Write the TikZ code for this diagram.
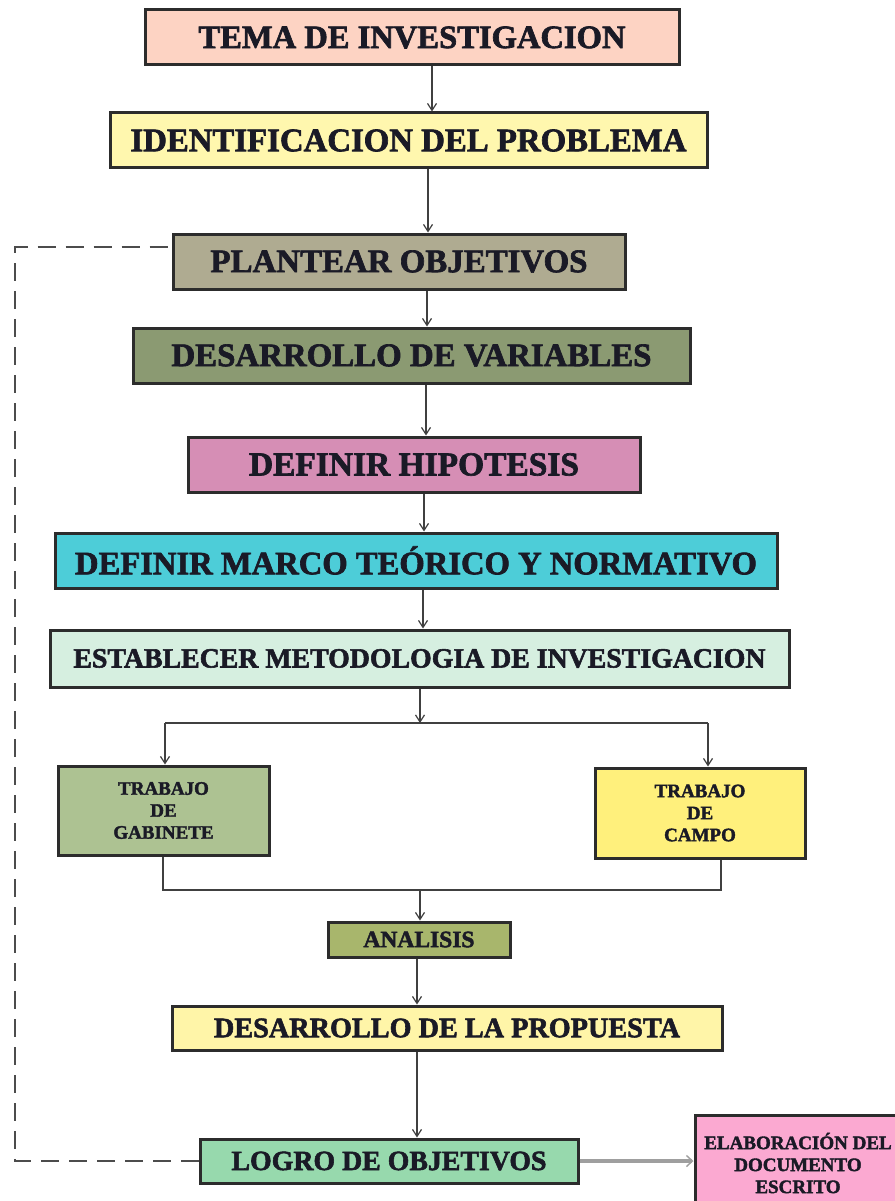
\documentclass[tikz,border=0pt]{standalone}
\usepackage{fontspec}
\setmainfont{Liberation Serif}[BoldFeatures={FakeBold=2}]
\usetikzlibrary{arrows.meta}
\definecolor{boxline}{HTML}{2C2C2C}
\definecolor{txt}{HTML}{1A1A26}
\definecolor{arrc}{HTML}{404040}
\definecolor{cTema}{HTML}{FDD3C3}
\definecolor{cIdent}{HTML}{FFF7AE}
\definecolor{cPlant}{HTML}{AFAB91}
\definecolor{cVar}{HTML}{8B9A72}
\definecolor{cHipo}{HTML}{D68EB5}
\definecolor{cMarco}{HTML}{4DCDD8}
\definecolor{cEstab}{HTML}{D6EFE0}
\definecolor{cGab}{HTML}{ADC292}
\definecolor{cCampo}{HTML}{FFF07C}
\definecolor{cAnal}{HTML}{A8B66C}
\definecolor{cProp}{HTML}{FFF5A8}
\definecolor{cLogro}{HTML}{97D9AD}
\definecolor{cElab}{HTML}{FBA9D1}
\newcommand\fitw[2]{\resizebox{#1pt}{!}{\bfseries #2}}
\begin{document}
\begin{tikzpicture}[x=1pt,y=-1pt,
  box/.style={draw=boxline, line width=3pt, inner sep=0pt, text=txt, font=\bfseries},
  small/.style={align=center, font=\bfseries\fontsize{19}{22}\selectfont},
  arr/.style={draw=arrc, line width=1.3pt, -{Straight Barb[length=7pt,width=9pt,line width=1.2pt]}},
  ln/.style={draw=arrc, line width=1.3pt},
  grayarr/.style={draw=gray!75, line width=4pt, -{Straight Barb[length=6pt,width=11pt,line width=1.4pt]}},
  dashline/.style={draw=black!70, line width=2pt, dash pattern=on 18pt off 10pt}]
\useasboundingbox[fill=white] (0,0) rectangle (894,1201);

\node[box, fill=cTema, minimum width=534pt, minimum height=55pt] (tema) at (412,37.5) {\fitw{427}{TEMA DE INVESTIGACION}};
\node[box, fill=cIdent, minimum width=597pt, minimum height=55pt] (ident) at (408.5,140.5) {\fitw{556}{IDENTIFICACION DEL PROBLEMA}};
\node[box, fill=cPlant, minimum width=452pt, minimum height=55pt] (plant) at (399,261.5) {\fitw{377}{PLANTEAR OBJETIVOS}};
\node[box, fill=cVar, minimum width=557pt, minimum height=55pt] (var) at (411.5,355.5) {\fitw{480}{DESARROLLO DE VARIABLES}};
\node[box, fill=cHipo, minimum width=452pt, minimum height=55pt] (hipo) at (414,464.5) {\fitw{330}{DEFINIR HIPOTESIS}};
\node[box, fill=cMarco, minimum width=722pt, minimum height=55pt] (marco) at (416,560.5) {\fitw{682}{DEFINIR MARCO TEÓRICO Y NORMATIVO}};
\node[box, fill=cEstab, minimum width=739pt, minimum height=57pt] (estab) at (419.5,658.5) {\fitw{692}{ESTABLECER METODOLOGIA DE INVESTIGACION}};
\node[box, small, fill=cGab, minimum width=211pt, minimum height=89pt] (gab) at (163.5,810.5) {TRABAJO\\DE\\GABINETE};
\node[box, small, fill=cCampo, minimum width=210pt, minimum height=90pt] (campo) at (700,813) {TRABAJO\\DE\\CAMPO};
\node[box, fill=cAnal, minimum width=182pt, minimum height=35pt] (anal) at (419,939.5) {\fitw{111}{ANALISIS}};
\node[box, fill=cProp, minimum width=550pt, minimum height=44pt] (prop) at (447,1028) {\fitw{466}{DESARROLLO DE LA PROPUESTA}};
\node[box, fill=cLogro, minimum width=378pt, minimum height=44pt] (logro) at (389,1161) {\fitw{315}{LOGRO DE OBJETIVOS}};
\node[box, small, fill=cElab, minimum width=206pt, minimum height=96pt] (elab) at (798,1163) {ELABORACIÓN DEL\\DOCUMENTO\\ESCRITO};

\coordinate (x1) at (432,0);
\coordinate (x2) at (428,0);
\coordinate (x3) at (427,0);
\coordinate (x4) at (426,0);
\coordinate (x5) at (424,0);
\coordinate (x6) at (423,0);
\coordinate (x7) at (417,0);
\draw[arr] (tema.south -| x1) -- (ident.north -| x1);
\draw[arr] (ident.south -| x2) -- (plant.north -| x2);
\draw[arr] (plant.south -| x3) -- (var.north -| x3);
\draw[arr] (var.south -| x4) -- (hipo.north -| x4);
\draw[arr] (hipo.south -| x5) -- (marco.north -| x5);
\draw[arr] (marco.south -| x6) -- (estab.north -| x6);

\coordinate (j1) at (420,723);
\coordinate (gL) at (165,723);
\coordinate (gR) at (708,723);
\draw[arr] (estab.south -| j1) -- (j1);
\draw[ln] (gL) -- (gR);
\draw[arr] (gL) -- (gab.north -| gL);
\draw[arr] (gR) -- (campo.north -| gR);

\coordinate (bL) at (163,890);
\coordinate (bR) at (721,890);
\coordinate (j2) at (420,890);
\draw[ln] (gab.south -| bL) -- (bL) -- (bR) -- (campo.south -| bR);
\draw[arr] (j2) -- (anal.north -| j2);
\draw[arr] (anal.south -| x7) -- (prop.north -| x7);
\draw[arr] (prop.south -| x7) -- (logro.north -| x7);

\draw[grayarr] (logro.east) -- (elab.west |- logro.east);

\coordinate (dl1) at (15,1162);
\coordinate (dl2) at (15,247);
\draw[dashline] (logro.west) -- (logro.west -| dl1) -- (dl2) -- (plant.west |- dl2);
\end{tikzpicture}
\end{document}
